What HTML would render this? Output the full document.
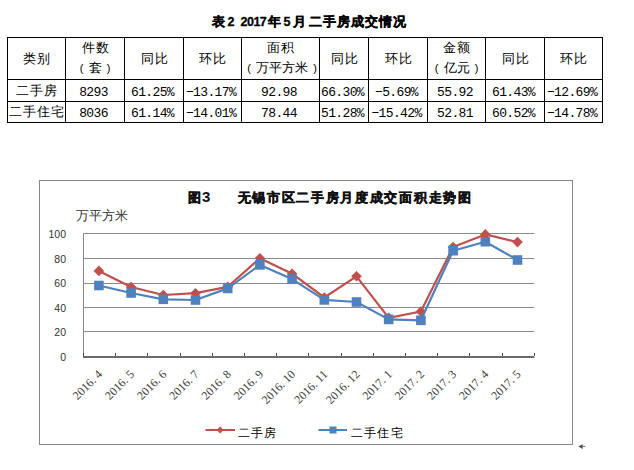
<!DOCTYPE html><html><head><meta charset="utf-8"><style>
html,body{margin:0;padding:0;background:#fff;}
body{width:634px;height:470px;position:relative;overflow:hidden;font-family:"Liberation Sans",sans-serif;color:#000;}
.a{position:absolute;}
.vl{position:absolute;width:1px;background:#000;}
.hl{position:absolute;height:1px;background:#000;}
.c{position:absolute;text-align:center;white-space:nowrap;font-size:13px;letter-spacing:1px;text-indent:1px;line-height:20px;}
.n{font-family:"Liberation Mono",monospace;letter-spacing:-0.65px;text-indent:0;font-size:13px;}
.t{position:absolute;white-space:nowrap;}
.p{display:inline-block;width:14px;text-align:center;font-size:11px;}
</style></head><body>

<div class="t" style="left:211.5px;top:12.5px;font-size:13px;font-weight:bold;line-height:18px;letter-spacing:0px;-webkit-text-stroke:0.3px #000">表</div>
<div class="t" style="left:227.5px;top:12.5px;font-size:12.5px;font-weight:bold;line-height:18px;letter-spacing:0px;-webkit-text-stroke:0.3px #000">2</div>
<div class="t" style="left:240.5px;top:12.5px;font-size:12.5px;font-weight:bold;line-height:18px;letter-spacing:-0.5px;-webkit-text-stroke:0.3px #000">2017</div>
<div class="t" style="left:267.5px;top:12.5px;font-size:13px;font-weight:bold;line-height:18px;letter-spacing:0px;-webkit-text-stroke:0.3px #000">年</div>
<div class="t" style="left:283.5px;top:12.5px;font-size:12.5px;font-weight:bold;line-height:18px;letter-spacing:0px;-webkit-text-stroke:0.3px #000">5</div>
<div class="t" style="left:292.5px;top:12.5px;font-size:13px;font-weight:bold;line-height:18px;letter-spacing:0px;-webkit-text-stroke:0.3px #000">月</div>
<div class="t" style="left:308.5px;top:12.5px;font-size:13px;font-weight:bold;line-height:18px;letter-spacing:1px;-webkit-text-stroke:0.3px #000">二手房成交情况</div>
<div class="vl" style="left:7px;top:37px;height:86px"></div>
<div class="vl" style="left:65px;top:37px;height:86px"></div>
<div class="vl" style="left:124px;top:37px;height:86px"></div>
<div class="vl" style="left:183px;top:37px;height:86px"></div>
<div class="vl" style="left:241px;top:37px;height:86px"></div>
<div class="vl" style="left:319px;top:37px;height:86px"></div>
<div class="vl" style="left:368px;top:37px;height:86px"></div>
<div class="vl" style="left:427px;top:37px;height:86px"></div>
<div class="vl" style="left:485px;top:37px;height:86px"></div>
<div class="vl" style="left:544px;top:37px;height:86px"></div>
<div class="vl" style="left:602px;top:37px;height:86px"></div>
<div class="hl" style="left:7px;top:37px;width:596px"></div>
<div class="hl" style="left:7px;top:79px;width:596px"></div>
<div class="hl" style="left:7px;top:101px;width:596px"></div>
<div class="hl" style="left:7px;top:122px;width:596px"></div>
<div class="c" style="left:8px;width:57px;top:49px">类别</div>
<div class="c" style="left:66px;width:58px;top:38px">件数</div>
<div class="c" style="left:66px;width:58px;top:58px;letter-spacing:0;text-indent:0"><span class="p">(</span>套<span class="p">)</span></div>
<div class="c" style="left:125px;width:58px;top:49px">同比</div>
<div class="c" style="left:184px;width:57px;top:49px">环比</div>
<div class="c" style="left:242px;width:77px;top:38px">面积</div>
<div class="c" style="left:242px;width:77px;top:58px;letter-spacing:0;text-indent:0"><span class="p">(</span>万平方米<span class="p">)</span></div>
<div class="c" style="left:320px;width:48px;top:49px">同比</div>
<div class="c" style="left:369px;width:58px;top:49px">环比</div>
<div class="c" style="left:428px;width:57px;top:38px">金额</div>
<div class="c" style="left:428px;width:57px;top:58px;letter-spacing:0;text-indent:0"><span class="p">(</span>亿元<span class="p">)</span></div>
<div class="c" style="left:486px;width:58px;top:49px">同比</div>
<div class="c" style="left:545px;width:57px;top:49px">环比</div>
<div class="c" style="left:8px;width:57px;top:81px">二手房</div>
<div class="c n" style="left:64.5px;width:58px;top:82.5px">8293</div>
<div class="c n" style="left:123.5px;width:58px;top:82.5px">61.25%</div>
<div class="c n" style="left:182.5px;width:57px;top:82.5px">&#8722;13.17%</div>
<div class="c n" style="left:240.5px;width:77px;top:82.5px">92.98</div>
<div class="c n" style="left:318.5px;width:48px;top:82.5px">66.30%</div>
<div class="c n" style="left:367.5px;width:58px;top:82.5px">&#8722;5.69%</div>
<div class="c n" style="left:426.5px;width:57px;top:82.5px">55.92</div>
<div class="c n" style="left:484.5px;width:58px;top:82.5px">61.43%</div>
<div class="c n" style="left:543.5px;width:57px;top:82.5px">&#8722;12.69%</div>
<div class="c" style="left:8px;width:57px;top:102px">二手住宅</div>
<div class="c n" style="left:64.5px;width:58px;top:103.5px">8036</div>
<div class="c n" style="left:123.5px;width:58px;top:103.5px">61.14%</div>
<div class="c n" style="left:182.5px;width:57px;top:103.5px">&#8722;14.01%</div>
<div class="c n" style="left:240.5px;width:77px;top:103.5px">78.44</div>
<div class="c n" style="left:318.5px;width:48px;top:103.5px">51.28%</div>
<div class="c n" style="left:367.5px;width:58px;top:103.5px">&#8722;15.42%</div>
<div class="c n" style="left:426.5px;width:57px;top:103.5px">52.81</div>
<div class="c n" style="left:484.5px;width:58px;top:103.5px">60.52%</div>
<div class="c n" style="left:543.5px;width:57px;top:103.5px">&#8722;14.78%</div>
<svg class="a" style="left:0;top:0" width="634" height="470">
<rect x="39.5" y="180.5" width="533" height="264" fill="none" stroke="#868686" stroke-width="1"/>
<line x1="83.5" y1="233.5" x2="534.3" y2="233.5" stroke="#8c8c8c" stroke-width="1"/>
<line x1="83.5" y1="258.5" x2="534.3" y2="258.5" stroke="#8c8c8c" stroke-width="1"/>
<line x1="83.5" y1="283.5" x2="534.3" y2="283.5" stroke="#8c8c8c" stroke-width="1"/>
<line x1="83.5" y1="307.5" x2="534.3" y2="307.5" stroke="#8c8c8c" stroke-width="1"/>
<line x1="83.5" y1="331.5" x2="534.3" y2="331.5" stroke="#8c8c8c" stroke-width="1"/>
<line x1="83.5" y1="233.5" x2="83.5" y2="356.5" stroke="#868686" stroke-width="1"/>
<line x1="83.0" y1="357" x2="534.3" y2="357" stroke="#6a6a6a" stroke-width="2"/>
<line x1="83.5" y1="353" x2="83.5" y2="356" stroke="#444" stroke-width="1"/>
<line x1="115.5" y1="353" x2="115.5" y2="356" stroke="#444" stroke-width="1"/>
<line x1="147.5" y1="353" x2="147.5" y2="356" stroke="#444" stroke-width="1"/>
<line x1="180.5" y1="353" x2="180.5" y2="356" stroke="#444" stroke-width="1"/>
<line x1="212.5" y1="353" x2="212.5" y2="356" stroke="#444" stroke-width="1"/>
<line x1="244.5" y1="353" x2="244.5" y2="356" stroke="#444" stroke-width="1"/>
<line x1="276.5" y1="353" x2="276.5" y2="356" stroke="#444" stroke-width="1"/>
<line x1="308.5" y1="353" x2="308.5" y2="356" stroke="#444" stroke-width="1"/>
<line x1="341.5" y1="353" x2="341.5" y2="356" stroke="#444" stroke-width="1"/>
<line x1="373.5" y1="353" x2="373.5" y2="356" stroke="#444" stroke-width="1"/>
<line x1="405.5" y1="353" x2="405.5" y2="356" stroke="#444" stroke-width="1"/>
<line x1="437.5" y1="353" x2="437.5" y2="356" stroke="#444" stroke-width="1"/>
<line x1="469.5" y1="353" x2="469.5" y2="356" stroke="#444" stroke-width="1"/>
<line x1="502.5" y1="353" x2="502.5" y2="356" stroke="#444" stroke-width="1"/>
<line x1="534.5" y1="353" x2="534.5" y2="356" stroke="#444" stroke-width="1"/>
<text x="66" y="361.0" text-anchor="end" font-family="Liberation Sans" font-size="10.5" fill="#333">0</text>
<text x="66" y="336.4" text-anchor="end" font-family="Liberation Sans" font-size="10.5" fill="#333">20</text>
<text x="66" y="311.8" text-anchor="end" font-family="Liberation Sans" font-size="10.5" fill="#333">40</text>
<text x="66" y="287.2" text-anchor="end" font-family="Liberation Sans" font-size="10.5" fill="#333">60</text>
<text x="66" y="262.6" text-anchor="end" font-family="Liberation Sans" font-size="10.5" fill="#333">80</text>
<text x="66" y="238.0" text-anchor="end" font-family="Liberation Sans" font-size="10.5" fill="#333">100</text>
<text x="75.5" y="220" font-family="Liberation Serif" font-size="13" fill="#333">万平方米</text>
<text x="188" y="201.5" font-family="Liberation Sans" font-size="13" font-weight="bold" fill="#111" stroke="#111" stroke-width="0.5">图</text><text x="202" y="201.8" font-family="Liberation Sans" font-size="15" font-weight="bold" fill="#111">3</text>
<text x="237.5" y="201.5" font-family="Liberation Sans" font-size="12.5" font-weight="bold" fill="#111" stroke="#111" stroke-width="0.5" letter-spacing="1.7">无锡市区二手房月度成交面积走势图</text>
<text x="102.9" y="375" text-anchor="end" transform="rotate(-45 102.9 375)" font-family="Liberation Serif" font-size="12" fill="#404040">2016. 4</text>
<text x="135.1" y="375" text-anchor="end" transform="rotate(-45 135.1 375)" font-family="Liberation Serif" font-size="12" fill="#404040">2016. 5</text>
<text x="167.3" y="375" text-anchor="end" transform="rotate(-45 167.3 375)" font-family="Liberation Serif" font-size="12" fill="#404040">2016. 6</text>
<text x="199.5" y="375" text-anchor="end" transform="rotate(-45 199.5 375)" font-family="Liberation Serif" font-size="12" fill="#404040">2016. 7</text>
<text x="231.7" y="375" text-anchor="end" transform="rotate(-45 231.7 375)" font-family="Liberation Serif" font-size="12" fill="#404040">2016. 8</text>
<text x="263.9" y="375" text-anchor="end" transform="rotate(-45 263.9 375)" font-family="Liberation Serif" font-size="12" fill="#404040">2016. 9</text>
<text x="296.1" y="375" text-anchor="end" transform="rotate(-45 296.1 375)" font-family="Liberation Serif" font-size="12" fill="#404040">2016. 10</text>
<text x="328.3" y="375" text-anchor="end" transform="rotate(-45 328.3 375)" font-family="Liberation Serif" font-size="12" fill="#404040">2016. 11</text>
<text x="360.5" y="375" text-anchor="end" transform="rotate(-45 360.5 375)" font-family="Liberation Serif" font-size="12" fill="#404040">2016. 12</text>
<text x="392.7" y="375" text-anchor="end" transform="rotate(-45 392.7 375)" font-family="Liberation Serif" font-size="12" fill="#404040">2017. 1</text>
<text x="424.9" y="375" text-anchor="end" transform="rotate(-45 424.9 375)" font-family="Liberation Serif" font-size="12" fill="#404040">2017. 2</text>
<text x="457.1" y="375" text-anchor="end" transform="rotate(-45 457.1 375)" font-family="Liberation Serif" font-size="12" fill="#404040">2017. 3</text>
<text x="489.3" y="375" text-anchor="end" transform="rotate(-45 489.3 375)" font-family="Liberation Serif" font-size="12" fill="#404040">2017. 4</text>
<text x="521.5" y="375" text-anchor="end" transform="rotate(-45 521.5 375)" font-family="Liberation Serif" font-size="12" fill="#404040">2017. 5</text>
<polyline points="98.9,270.9 131.1,287.0 163.3,295.0 195.5,293.2 227.7,286.8 259.9,258.3 292.1,273.7 324.3,297.5 356.5,276.3 388.7,317.8 420.9,311.5 453.1,247.0 485.3,234.4 517.5,242.1" fill="none" stroke="#C0504D" stroke-width="2.2" stroke-linejoin="round"/>
<path d="M98.9 265.6L104.2 270.9L98.9 276.2L93.6 270.9Z" fill="#C0504D"/>
<path d="M131.1 281.7L136.4 287.0L131.1 292.3L125.8 287.0Z" fill="#C0504D"/>
<path d="M163.3 289.7L168.6 295.0L163.3 300.3L158.0 295.0Z" fill="#C0504D"/>
<path d="M195.5 287.9L200.8 293.2L195.5 298.5L190.2 293.2Z" fill="#C0504D"/>
<path d="M227.7 281.5L233.0 286.8L227.7 292.1L222.4 286.8Z" fill="#C0504D"/>
<path d="M259.9 253.0L265.2 258.3L259.9 263.6L254.6 258.3Z" fill="#C0504D"/>
<path d="M292.1 268.4L297.4 273.7L292.1 279.0L286.8 273.7Z" fill="#C0504D"/>
<path d="M324.3 292.2L329.6 297.5L324.3 302.8L319.0 297.5Z" fill="#C0504D"/>
<path d="M356.5 271.0L361.8 276.3L356.5 281.6L351.2 276.3Z" fill="#C0504D"/>
<path d="M388.7 312.5L394.0 317.8L388.7 323.1L383.4 317.8Z" fill="#C0504D"/>
<path d="M420.9 306.2L426.2 311.5L420.9 316.8L415.6 311.5Z" fill="#C0504D"/>
<path d="M453.1 241.7L458.4 247.0L453.1 252.3L447.8 247.0Z" fill="#C0504D"/>
<path d="M485.3 229.1L490.6 234.4L485.3 239.7L480.0 234.4Z" fill="#C0504D"/>
<path d="M517.5 236.8L522.8 242.1L517.5 247.4L512.2 242.1Z" fill="#C0504D"/>
<polyline points="98.9,285.5 131.1,293.0 163.3,299.3 195.5,300.0 227.7,288.4 259.9,264.9 292.1,279.1 324.3,299.9 356.5,302.0 388.7,319.4 420.9,320.3 453.1,250.7 485.3,241.7 517.5,260.0" fill="none" stroke="#4F81BD" stroke-width="2.2" stroke-linejoin="round"/>
<rect x="94.1" y="280.7" width="9.6" height="9.6" fill="#4F81BD"/>
<rect x="126.3" y="288.2" width="9.6" height="9.6" fill="#4F81BD"/>
<rect x="158.5" y="294.5" width="9.6" height="9.6" fill="#4F81BD"/>
<rect x="190.7" y="295.2" width="9.6" height="9.6" fill="#4F81BD"/>
<rect x="222.9" y="283.6" width="9.6" height="9.6" fill="#4F81BD"/>
<rect x="255.1" y="260.1" width="9.6" height="9.6" fill="#4F81BD"/>
<rect x="287.3" y="274.3" width="9.6" height="9.6" fill="#4F81BD"/>
<rect x="319.5" y="295.1" width="9.6" height="9.6" fill="#4F81BD"/>
<rect x="351.7" y="297.2" width="9.6" height="9.6" fill="#4F81BD"/>
<rect x="383.9" y="314.6" width="9.6" height="9.6" fill="#4F81BD"/>
<rect x="416.1" y="315.5" width="9.6" height="9.6" fill="#4F81BD"/>
<rect x="448.3" y="245.9" width="9.6" height="9.6" fill="#4F81BD"/>
<rect x="480.5" y="236.9" width="9.6" height="9.6" fill="#4F81BD"/>
<rect x="512.7" y="255.2" width="9.6" height="9.6" fill="#4F81BD"/>
<line x1="205.5" y1="430" x2="235" y2="430" stroke="#C0504D" stroke-width="2"/>
<path d="M220.2 426.5L223.7 430L220.2 433.5L216.7 430Z" fill="#C0504D"/>
<text x="238" y="437" font-family="Liberation Sans" font-size="11.5" letter-spacing="1.2" fill="#000">二手房</text>
<line x1="318.5" y1="430" x2="347" y2="430" stroke="#4F81BD" stroke-width="2"/>
<rect x="329.5" y="426.5" width="7" height="7" fill="#4F81BD"/>
<text x="351" y="437" font-family="Liberation Sans" font-size="11.5" letter-spacing="1.2" fill="#000">二手住宅</text>
<path d="M578.3 446.4L582.6 443.9L582.6 448.9Z" fill="#555"/><line x1="582" y1="446.4" x2="585.3" y2="446.4" stroke="#666" stroke-width="1"/>
</svg>
</body></html>
